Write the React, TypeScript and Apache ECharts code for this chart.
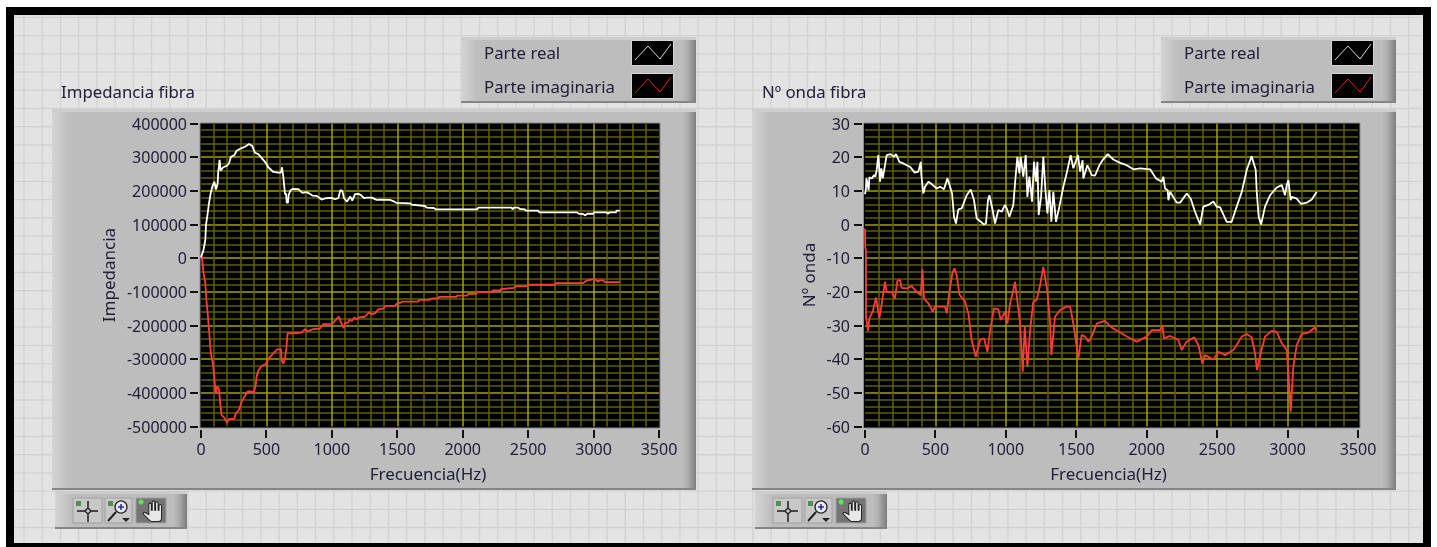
import React, { useEffect, useRef } from "react";
import * as echarts from "echarts";

const SERIES_REAL = "Parte real";
const SERIES_IMAG = "Parte imaginaria";
const X_TITLE = "Frecuencia(Hz)";

const xTicks = [0, 500, 1000, 1500, 2000, 2500, 3000, 3500];
const impedanceTicks = [400000, 300000, 200000, 100000, 0, -100000, -200000, -300000, -400000, -500000];
const waveTicks = [30, 20, 10, 0, -10, -20, -30, -40, -50, -60];

const impedanceReal: number[][] = [
  [0, 2000], [20, 26000], [33, 54000], [38, 98000], [51, 133000], [61, 163000], [74, 193000], [86, 212000],
  [102, 227000], [115, 204000], [127, 222000], [132, 257000], [142, 292000], [150, 260000], [170, 270000],
  [196, 274000], [214, 282000], [229, 301000], [255, 306000], [272, 319000], [311, 327000], [336, 331000],
  [367, 339000], [392, 333000], [413, 313000], [438, 309000], [471, 294000], [494, 284000], [514, 270000],
  [553, 256000], [591, 254000], [611, 254000], [619, 270000], [629, 242000], [642, 190000], [650, 192000],
  [655, 165000], [665, 165000], [670, 188000], [685, 202000], [705, 206000], [744, 205000], [774, 194000],
  [807, 196000], [833, 191000], [851, 186000], [884, 185000], [922, 174000], [952, 178000], [998, 179000],
  [1024, 175000], [1049, 178000], [1065, 202000], [1080, 200000], [1093, 178000], [1116, 168000], [1141, 183000],
  [1156, 171000], [1177, 190000], [1202, 191000], [1220, 188000], [1248, 178000], [1266, 180000], [1304, 180000],
  [1342, 173000], [1380, 174000], [1444, 173000], [1482, 167000], [1495, 164000], [1597, 163000], [1610, 159000],
  [1711, 155000], [1724, 150000], [1780, 149000], [1793, 145000], [2111, 145000], [2119, 150000], [2374, 150000],
  [2381, 145000], [2391, 150000], [2424, 150000], [2437, 146000], [2475, 145000], [2483, 141000], [2577, 141000],
  [2585, 136000], [2875, 136000], [2886, 132000], [2921, 131000], [2936, 127000], [2952, 132000], [2998, 132000],
  [3003, 136000], [3100, 136000], [3112, 132000], [3120, 136000], [3171, 136000], [3176, 141000], [3201, 141000],
];

const impedanceImag: number[][] = [
  [0, 10000], [10, -7000], [18, -40000], [33, -73000], [41, -124000], [51, -164000], [61, -211000], [74, -278000],
  [92, -317000], [102, -357000], [112, -403000], [122, -381000], [137, -389000], [148, -436000], [158, -467000],
  [176, -473000], [199, -488000], [214, -478000], [255, -477000], [265, -461000], [290, -451000], [311, -426000],
  [336, -409000], [356, -396000], [387, -396000], [402, -401000], [418, -377000], [425, -352000], [438, -334000],
  [463, -320000], [494, -315000], [519, -297000], [553, -283000], [583, -271000], [611, -271000], [616, -302000],
  [629, -314000], [642, -297000], [652, -268000], [662, -223000], [705, -223000], [769, -221000], [795, -211000],
  [815, -217000], [858, -211000], [909, -209000], [935, -196000], [1003, -195000], [1029, -184000], [1054, -174000],
  [1070, -191000], [1090, -208000], [1100, -193000], [1126, -191000], [1136, -182000], [1151, -187000], [1172, -176000],
  [1187, -182000], [1207, -176000], [1253, -174000], [1284, -161000], [1304, -166000], [1330, -164000], [1355, -152000],
  [1393, -150000], [1411, -142000], [1482, -142000], [1495, -136000], [1528, -132000], [1536, -129000], [1660, -129000],
  [1666, -124000], [1750, -124000], [1755, -120000], [1813, -119000], [1821, -115000], [1953, -115000], [1958, -111000],
  [2035, -111000], [2043, -106000], [2101, -106000], [2111, -101000], [2221, -101000], [2228, -96000], [2285, -96000],
  [2292, -92000], [2391, -88000], [2412, -83000], [2493, -83000], [2501, -79000], [2705, -79000], [2710, -74000],
  [2921, -74000], [2934, -70000], [2952, -66000], [2985, -64000], [3003, -61000], [3023, -66000], [3036, -70000],
  [3043, -66000], [3074, -66000], [3087, -71000], [3201, -71000],
];

const waveReal: number[][] = [
  [0, 9], [7, 10.7], [10, 13.7], [26, 10.2], [31, 14], [48, 13.7], [64, 14.7], [73, 14.2], [83, 16.2], [95, 20.6],
  [107, 12.7], [116, 16.7], [126, 13.7], [140, 17.1], [154, 20.6], [182, 20.9], [206, 20.1], [220, 20.9], [244, 18.6],
  [263, 18.3], [296, 17.6], [320, 17.1], [353, 15.4], [379, 15.7], [396, 18.6], [400, 14.7], [414, 9.2], [426, 11.2],
  [450, 12.7], [473, 12], [509, 10.7], [533, 11.2], [561, 10.5], [585, 13.7], [604, 11.2], [618, 9.2], [632, 2.3],
  [646, 0.3], [663, 4.5], [687, 4.8], [722, 8.7], [750, 10.4], [774, 7.2], [793, 1.8], [822, 0.8], [845, 0], [859, 0.3],
  [873, 7.2], [883, 8.7], [906, 4.3], [923, 0.3], [947, 4.3], [971, 3.8], [994, 5.8], [1006, 4.8], [1025, 2.3],
  [1053, 5.8], [1067, 13.2], [1082, 20.1], [1096, 15.2], [1105, 20.1], [1124, 14.2], [1141, 20.6], [1153, 8.2],
  [1167, 14.2], [1186, 6.8], [1200, 18.6], [1214, 12.7], [1224, 18.6], [1233, 2.8], [1250, 8.2], [1266, 20.1],
  [1281, 10.2], [1295, 3.3], [1309, 10.2], [1323, 0.8], [1337, 9.7], [1356, 0.8], [1380, 5.3], [1408, 11.2], [1432, 15.2],
  [1460, 20.6], [1479, 16.7], [1512, 20.6], [1527, 15.7], [1545, 19.1], [1550, 13.7], [1579, 17.6], [1609, 14.7],
  [1633, 14.5], [1664, 17.6], [1687, 19.1], [1723, 20.9], [1763, 19.3], [1811, 18.3], [1858, 17.6], [1905, 16.4],
  [1953, 16.7], [2024, 16.4], [2066, 13.7], [2106, 12.7], [2118, 14.2], [2130, 10.7], [2149, 10.2], [2154, 7.2],
  [2166, 9.7], [2213, 6.5], [2237, 6.5], [2284, 9.2], [2312, 7.7], [2343, 3.8], [2379, 0], [2402, 5.3], [2438, 5.8],
  [2473, 6.8], [2497, 5.3], [2521, 5.1], [2568, 0.8], [2603, 0.8], [2639, 5.3], [2675, 9.7], [2710, 16.2], [2745, 20.3],
  [2774, 16.2], [2781, 9.7], [2795, 2.3], [2812, 0], [2840, 5.3], [2876, 8.7], [2923, 11], [2959, 11.7], [2982, 8.7],
  [2994, 11.7], [3006, 13.2], [3022, 7.2], [3030, 8.2], [3065, 7.7], [3096, 6.1], [3136, 6.5], [3172, 7.4], [3207, 9.7],
];

const waveImag: number[][] = [
  [0, -1.2], [2, -7], [7, -7.6], [7, -27.4], [21, -31.6], [31, -27.9], [55, -25.9], [78, -21.7], [88, -24.4], [102, -27.9],
  [121, -22.9], [142, -17], [154, -20], [190, -20], [213, -22], [230, -16.7], [249, -16.5], [260, -18.8], [296, -19],
  [331, -18.3], [367, -20], [396, -21], [407, -13.3], [419, -22], [450, -23.4], [481, -25.9], [497, -24.4], [568, -24.4],
  [580, -26.4], [599, -20], [620, -14.5], [634, -13], [651, -15], [670, -20.8], [710, -22.9], [734, -26.4], [757, -34.3],
  [786, -39.3], [817, -34.3], [845, -33.8], [869, -37.8], [892, -30.4], [916, -24.9], [947, -25.2], [964, -28.4],
  [994, -25.9], [1011, -29.4], [1030, -23.4], [1053, -19.5], [1065, -17], [1082, -22.9], [1101, -29.4], [1120, -43.7],
  [1134, -30.4], [1153, -42.2], [1172, -31.4], [1195, -22.9], [1219, -22.4], [1243, -18], [1266, -12.6], [1295, -20],
  [1314, -29.4], [1323, -38.8], [1349, -27.4], [1385, -25.4], [1432, -24.4], [1456, -24.4], [1479, -29.4], [1515, -39.8],
  [1538, -32.8], [1562, -33.3], [1586, -34.8], [1609, -33.3], [1645, -29.4], [1680, -28.9], [1704, -28.6], [1751, -30.6],
  [1811, -32.1], [1881, -33.8], [1929, -34.8], [2000, -33.3], [2035, -31.4], [2095, -31.4], [2111, -29.9], [2123, -33.8],
  [2166, -33.1], [2225, -34.3], [2248, -37.3], [2284, -34.8], [2336, -33.5], [2367, -35.8], [2395, -41.3], [2414, -38.8],
  [2473, -40.1], [2509, -37.8], [2556, -38.8], [2615, -37.3], [2675, -33.3], [2710, -32.5], [2745, -33.5], [2769, -38.3],
  [2783, -43.2], [2809, -38.3], [2840, -33.3], [2887, -31.6], [2923, -31.9], [2959, -35.3], [2994, -37.3], [3006, -44.2],
  [3022, -55.6], [3041, -42.2], [3065, -35.8], [3101, -32.5], [3148, -32.1], [3195, -30.6], [3207, -31.6],
];

const FONT = "'Noto Sans'";
const TEXT = "#20203a";
const HAND =
  "M23 5.5V20c0 2.2-1.8 4-4 4h-7.3c-1.08 0-2.1-.43-2.85-1.19L1 14.83s1.26-1.23 1.3-1.25c.22-.19.49-.29.79-.29.22 0 .42.06.6.16.04.01 4.31 2.46 4.31 2.46V4c0-.83.67-1.5 1.5-1.5S11 3.17 11 4v7h1V1.5c0-.83.67-1.5 1.5-1.5S15 .67 15 1.5V11h1V2.5c0-.83.67-1.5 1.5-1.5s1.5.67 1.5 1.5V11h1V5.5c0-.83.67-1.5 1.5-1.5s1.5.67 1.5 1.5z";

echarts.graphic.registerShape("handIcon", echarts.graphic.extendPath(HAND, {}));

const Z = -10;
const hGrad = (stops: [number, string][]) =>
  new echarts.graphic.LinearGradient(0, 0, 1, 0, stops.map(([offset, color]) => ({ offset, color })));

function rect(x: number, y: number, width: number, height: number, fill: any, z = Z): any {
  return { type: "rect", shape: { x, y, width, height }, style: { fill }, z, silent: true };
}
function line(x1: number, y1: number, x2: number, y2: number, stroke: string, lineWidth = 1, z = Z + 5): any {
  return { type: "line", shape: { x1, y1, x2, y2 }, style: { stroke, lineWidth }, z, silent: true };
}

function backdrop(): any[] {
  const out: any[] = [];
  out.push(rect(0, 0, 1437, 547, "#ffffff", Z - 5));
  out.push(rect(6, 7, 1425, 540, "#000000", Z - 5));
  out.push(rect(14, 15, 1409, 528, "#e3e3e3", Z - 5));
  for (let x = 24; x < 1423; x += 18.22) out.push(rect(x - 0.7, 15, 1.4, 528, "#d3d3d3", Z - 4));
  for (let y = 17.4; y < 543; y += 18.22) out.push(rect(14, y - 0.7, 1409, 1.4, "#d3d3d3", Z - 4));
  return out;
}

function panelBlock(x: number, y: number, w: number, h: number): any[] {
  const lb = 17 / w;
  const rb = 1 - 14 / w;
  return [
    rect(x, y, w, h, hGrad([
      [0, "#d4d4d4"], [lb * 0.4, "#cbcbcb"], [lb, "#bdbdbd"], [rb, "#bdbdbd"], [rb + (1 - rb) * 0.4, "#adadad"], [1, "#7c7c7c"],
    ])),
    rect(x, y, w, 3, "#cdcdcd", Z + 1),
    rect(x, y + h - 2, w, 2, "#858585", Z + 1),
  ];
}

function wave(x: number, y: number, w: number, h: number, color: string): any {
  return {
    type: "polyline",
    shape: { points: [[x + 3, y + h - 5], [x + 16, y + 5], [x + 28, y + h - 6], [x + w - 2, y + 3]] },
    style: { stroke: color, lineWidth: 1, fill: "none" }, z: Z + 5, silent: true,
  };
}

function legendBlock(dx: number): any[] {
  const out = panelBlock(461 + dx, 37, 235, 66);
  out.push({ type: "rect", shape: { x: 631.5 + dx, y: 40.5, width: 42, height: 25 }, style: { fill: "#000", stroke: "#d6d6d6" }, z: Z + 4, silent: true });
  out.push({ type: "rect", shape: { x: 631.5 + dx, y: 73.5, width: 42, height: 25 }, style: { fill: "#000", stroke: "#d6d6d6" }, z: Z + 4, silent: true });
  out.push(wave(632 + dx, 41, 41, 24, "#d8d8d8"));
  out.push(wave(632 + dx, 74, 41, 24, "#e02020"));
  return out;
}

function palette(dx: number): any[] {
  const out: any[] = panelBlock(55 + dx, 491, 132, 38);
  const btn = (x: number, w: number, fill: string) => ({
    type: "rect", shape: { x: x + dx, y: 498, width: w, height: 25 }, style: { fill, stroke: "#a0a0a0", lineWidth: 1 }, z: Z + 4, silent: true,
  });
  out.push(btn(73, 29, "#c8c8c8"), btn(105, 27, "#c8c8c8"), btn(136, 30, "#757575"));
  // crosshair
  out.push(line(77 + dx, 511, 98 + dx, 511, "#111", 1.4), line(88 + dx, 501, 88 + dx, 522, "#111", 1.4));
  out.push({ type: "circle", shape: { cx: 88 + dx, cy: 511, r: 2.4 }, style: { fill: "#c8c8c8", stroke: "#111", lineWidth: 1.2 }, z: Z + 6, silent: true });
  out.push(rect(76 + dx, 501, 5, 5, "#4f8f4f", Z + 6));
  // magnifier
  out.push(line(108 + dx, 521, 116 + dx, 512, "#222", 2));
  out.push({ type: "circle", shape: { cx: 121 + dx, cy: 507, r: 6 }, style: { fill: "#e8e8ff", stroke: "#222", lineWidth: 1.3 }, z: Z + 6, silent: true });
  out.push(line(118 + dx, 507, 124 + dx, 507, "#20208a", 1.4, Z + 7), line(121 + dx, 504, 121 + dx, 510, "#20208a", 1.4, Z + 7));
  out.push(rect(108 + dx, 501, 5, 5, "#4f8f4f", Z + 6));
  out.push({ type: "polygon", shape: { points: [[122 + dx, 518], [130 + dx, 518], [126 + dx, 522]] }, style: { fill: "#222" }, z: Z + 6, silent: true });
  // hand
  out.push({ type: "handIcon", x: 142 + dx, y: 501, scaleX: 0.85, scaleY: 0.85, style: { fill: "#e8e8e8", stroke: "#222", lineWidth: 1.2 }, z: Z + 6, silent: true });
  out.push({ type: "circle", shape: { cx: 141 + dx, cy: 502, r: 2.6 }, style: { fill: "#5fe35f" }, z: Z + 7, silent: true });
  return out;
}

function plotBox(x: number, y: number, w: number, h: number): any {
  return { type: "rect", shape: { x, y, width: w, height: h }, style: { fill: "#000", stroke: "#8a8a8a", lineWidth: 1 }, z: Z + 3, silent: true };
}

function title(text: string, x: number): any {
  return { type: "text", x, y: 91, style: { text, fill: TEXT, font: `16.8px ${FONT}`, verticalAlign: "middle", align: "left" }, z: Z + 6, silent: true };
}

const MAJOR = { show: true, showMinLine: false, showMaxLine: false, lineStyle: { color: "#a3a300", width: 1.5 } };
const MINOR = { show: true, lineStyle: { color: "#5f5f00", width: 1.5 } };
const LABEL = { color: TEXT, fontFamily: FONT, fontSize: 16, formatter: (v: number) => String(v) };
const AXIS_LINE = { show: false, onZero: false };

const GRID_TOP = 123.5;
const GRID_HEIGHT = 303;
const LEFT_GRID = { left: 201, top: GRID_TOP, width: 458, height: GRID_HEIGHT };
const RIGHT_GRID = { left: 865, top: GRID_TOP, width: 493, height: GRID_HEIGHT };
const X_MAX = 3500;

// Tick marks sit just outside the plot box, at the same positions as the axis scale.
function ticks(grid: { left: number; width: number }, yValues: number[], yMin: number, yMax: number): any[] {
  const out: any[] = [];
  const bottom = GRID_TOP + GRID_HEIGHT;
  for (const v of xTicks) {
    const px = grid.left + (grid.width * v) / X_MAX;
    out.push(rect(Math.round(px) - 1, bottom + 3.5, 2, 8, "#111111", 10));
  }
  for (const v of yValues) {
    const py = bottom - (GRID_HEIGHT * (v - yMin)) / (yMax - yMin);
    out.push(rect(grid.left - 11, Math.round(py) - 1, 8, 2, "#111111", 10));
  }
  return out;
}

function xAxis(gridIndex: number, shift: number): any {
  return {
    type: "value", gridIndex, min: 0, max: X_MAX, interval: 500, offset: 3,
    axisLine: AXIS_LINE, axisTick: { show: false }, axisLabel: { ...LABEL, margin: 11, hideOverlap: false },
    splitLine: MAJOR, minorSplitLine: MINOR, minorTick: { show: false, splitNumber: 5 },
    name: X_TITLE, nameLocation: "middle", nameGap: 35,
    nameTextStyle: { color: TEXT, fontFamily: FONT, fontSize: 17, padding: [0, shift, 0, 0] },
  };
}
function yAxis(gridIndex: number, min: number, max: number, interval: number, name: string, nameGap: number, margin: number): any {
  return {
    type: "value", gridIndex, min, max, interval, offset: 2,
    axisLine: AXIS_LINE, axisTick: { show: false }, axisLabel: { ...LABEL, margin },
    splitLine: MAJOR, minorSplitLine: MINOR, minorTick: { show: false, splitNumber: 5 },
    name, nameLocation: "middle", nameGap,
    nameTextStyle: { color: TEXT, fontFamily: FONT, fontSize: 17 },
  };
}
function lineSeries(name: string, data: number[][], color: string, i: number): any {
  return {
    name, type: "line", xAxisIndex: i, yAxisIndex: i, data, showSymbol: false, symbol: "none",
    lineStyle: { color, width: 1.8 }, itemStyle: { color }, z: color === "#ffffff" ? 4 : 3, clip: true,
  };
}
function legend(left: number): any {
  return {
    left, top: 42, orient: "vertical", padding: 0, itemGap: 14, itemWidth: 0, itemHeight: 0, icon: "rect",
    selectedMode: false, data: [SERIES_REAL, SERIES_IMAG],
    textStyle: { color: TEXT, fontFamily: FONT, fontSize: 16.8, lineHeight: 20 },
  };
}

export default function App() {
  const ref = useRef<HTMLDivElement>(null);
  useEffect(() => {
    const chart = echarts.init(ref.current!, undefined, { renderer: "svg" });
    chart.setOption({
      animation: false,
      backgroundColor: "#ffffff",
      graphic: {
        elements: [
          ...backdrop(),
          ...legendBlock(0), ...legendBlock(700),
          ...panelBlock(52, 109, 644, 381), ...panelBlock(752, 109, 644, 381),
          ...palette(0), ...palette(700),
          plotBox(200, 123, 460, 305), plotBox(863.5, 123, 496.5, 305),
          ...ticks(LEFT_GRID, impedanceTicks, -500000, 400000),
          ...ticks(RIGHT_GRID, waveTicks, -60, 30),
          title("Impedancia fibra", 61), title("Nº onda fibra", 762),
        ],
      },
      legend: [legend(479), legend(1179)],
      grid: [LEFT_GRID, RIGHT_GRID],
      xAxis: [xAxis(0, 4), xAxis(1, 6)],
      yAxis: [
        yAxis(0, -500000, 400000, 100000, "Impedancia", 82, 12),
        yAxis(1, -60, 30, 10, "Nº onda", 46, 13),
      ],
      series: [
        lineSeries(SERIES_REAL, impedanceReal, "#ffffff", 0),
        lineSeries(SERIES_IMAG, impedanceImag, "#ff3a3a", 0),
        lineSeries(SERIES_REAL, waveReal, "#ffffff", 1),
        lineSeries(SERIES_IMAG, waveImag, "#ff3a3a", 1),
      ],
    });
    return () => chart.dispose();
  }, []);
  return <div ref={ref} style={{ position: "absolute", left: 0, top: 0, width: 1437, height: 547, filter: "blur(0.4px)" }} />;
}
